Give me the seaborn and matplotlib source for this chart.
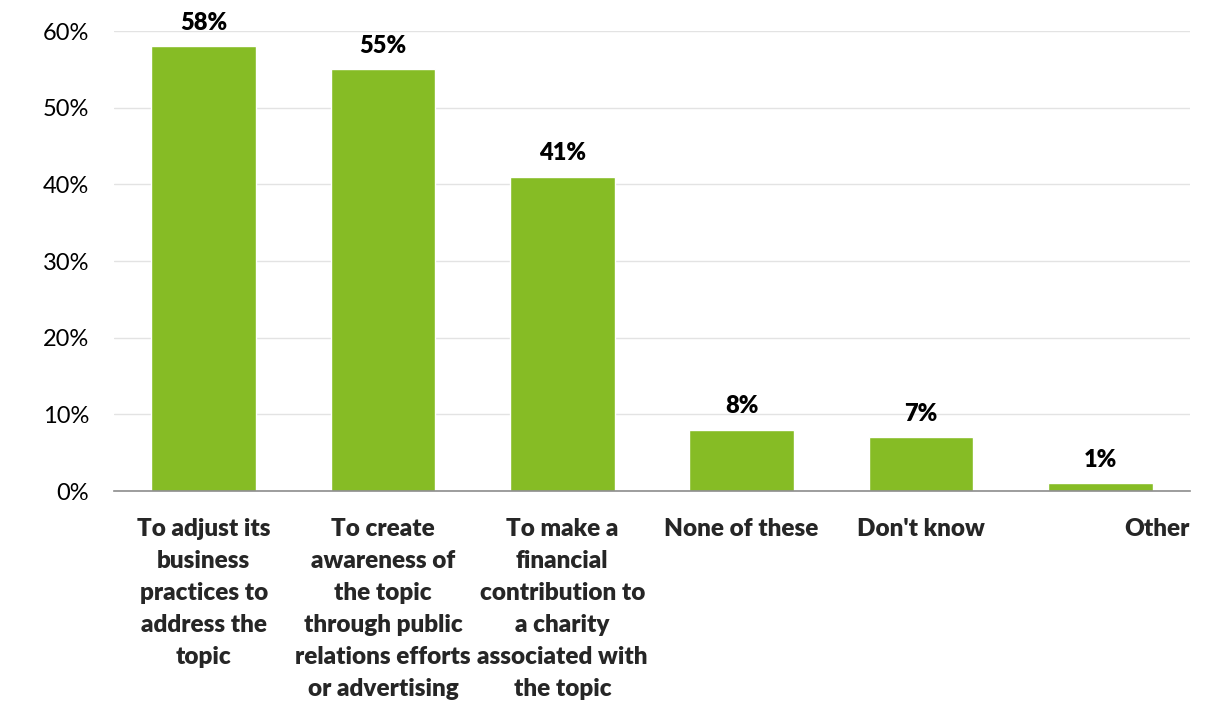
import matplotlib
matplotlib.use("Agg")
import matplotlib.pyplot as plt
import matplotlib.transforms as mtransforms
import seaborn as sns
import pandas as pd

categories = [
    "To adjust its\nbusiness\npractices to\naddress the\ntopic",
    "To create\nawareness of\nthe topic\nthrough public\nrelations efforts\nor advertising",
    "To make a\nfinancial\ncontribution to\na charity\nassociated with\nthe topic",
    "None of these",
    "Don't know",
    "Other",
]
values = [58, 55, 41, 8, 7, 1]
yticks = [0, 10, 20, 30, 40, 50, 60]

sns.set_theme(style="white")
plt.rcParams['font.family'] = ['Lato', 'DejaVu Sans']

df = pd.DataFrame({"cat": categories, "val": values})

fig = plt.figure(figsize=(12.12, 7.02), dpi=100)
ax = fig.add_axes([114/1212, 1 - 491/702, (1190-114)/1212, (491-31)/702])
sns.barplot(data=df, x="cat", y="val", color="#86BC25", saturation=1, width=0.585, ax=ax)

ax.set_ylim(0, 60)
ax.set_xlim(-0.5, len(categories) - 0.5)
ax.set_yticks(yticks)
ax.set_yticklabels([f"{t}%" for t in yticks], fontsize=17, color="#000000")
ax.yaxis.grid(True, color="#e3e3e3", linewidth=1)
ax.set_axisbelow(True)
for s in ["top", "right", "left"]:
    ax.spines[s].set_visible(False)
ax.spines["bottom"].set_color("#8c8c8c")
ax.spines["bottom"].set_linewidth(1.2)
ax.tick_params(axis="both", length=0)
ax.tick_params(axis="y", pad=18)
ax.set_xlabel("")
ax.set_ylabel("")
ax.set_xticks(range(len(categories)))
ax.set_xticklabels(categories, fontsize=17.5, fontweight="heavy", linespacing=1.56, va="top")
ax.tick_params(axis="x", pad=19.5)
lbls = ax.get_xticklabels()
lbls[-1].set_transform(lbls[-1].get_transform() + mtransforms.ScaledTranslation(0.57, 0, fig.dpi_scale_trans))

for i, v in enumerate(values):
    ax.annotate(f"{v}%", (i, v), xytext=(0, 9), textcoords="offset points",
                ha="center", va="bottom", fontsize=17, fontweight="heavy", color="#000000")

fig.savefig("out.png", dpi=100, facecolor="white")
